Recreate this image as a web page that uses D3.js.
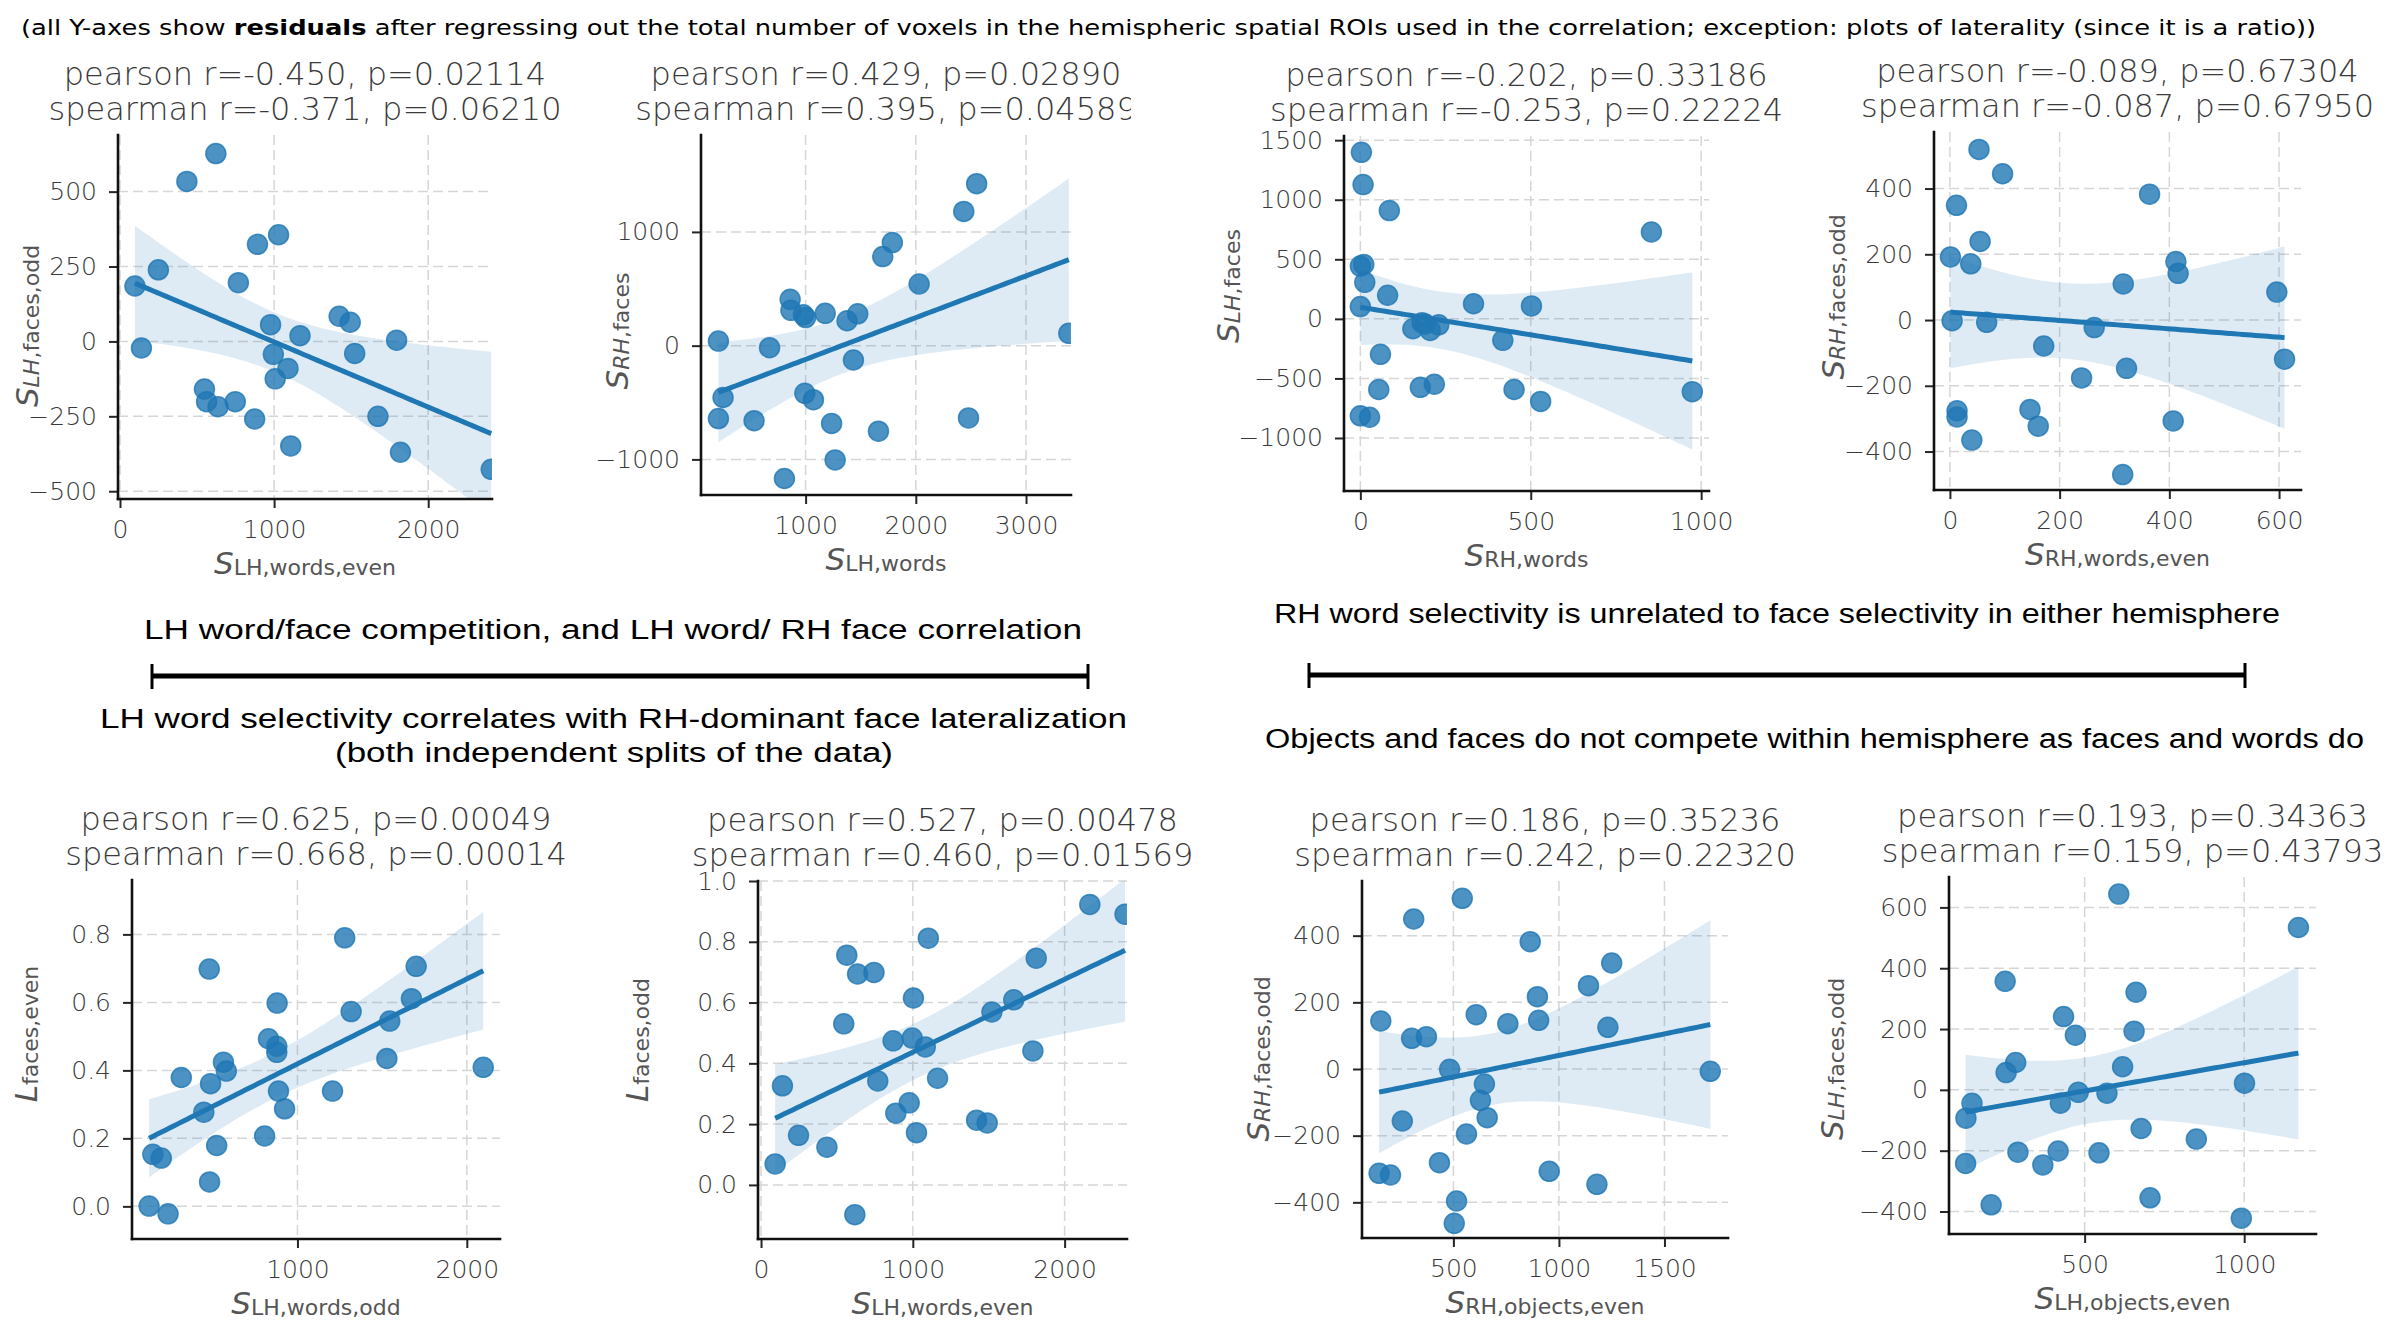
<!DOCTYPE html>
<html>
<head>
<meta charset="utf-8">
<script src="https://cdn.jsdelivr.net/npm/d3@7"></script>
<style>
  body { margin: 0; background: #fff; }
  text { font-family: "DejaVu Sans", sans-serif; }
</style>
</head>
<body>
<script>
// ---- data ----
var p1X = [622, 434, 1029, 892, 249, 97, 768, 1422, 1494, 977, 1168, 1795, 139, 995, 1523, 1090, 1007, 548, 562, 636, 748, 874, 1674, 1108, 1820, 2409];
var p1Y = [627, 534, 356, 324, 239, 185, 196, 84, 64, 56, 19, 4, -22, -43, -40, -90, -125, -159, -201, -218, -201, -259, -250, -349, -370, -427];

var p2X = [2552, 2435, 1787, 1700, 2030, 860, 867, 980, 1000, 1178, 1376, 1473, 209, 673, 3388, 1434, 993, 1071, 251, 209, 533, 1236, 1661, 2478, 1268, 808];
var p2Y = [1424, 1180, 906, 783, 542, 407, 311, 271, 247, 284, 219, 280, 40, -18, 108, -126, -419, -475, -456, -641, -660, -684, -752, -635, -1005, -1168];

var p3X = [3, 8, 85, 854, 0, 10, 13, 80, 0, 332, 502, 154, 190, 205, 230, 181, 418, 59, 54, 176, 217, 451, 529, 974, 0, 27];
var p3Y = [1398, 1127, 909, 729, 443, 457, 307, 198, 103, 127, 109, -83, -44, -97, -50, -32, -180, -298, -593, -575, -549, -593, -693, -611, -814, -826];

var p4X = [53, 96, 364, 12, 55, 1, 38, 412, 416, 316, 596, 4, 67, 263, 171, 610, 322, 240, 13, 13, 146, 161, 407, 40, 315];
var p4Y = [519, 445, 383, 349, 239, 192, 171, 178, 142, 110, 85, -2, -7, -23, -79, -119, -147, -176, -276, -295, -272, -323, -307, -365, -470];

var p5X = [1279, 479, 1701, 880, 1673, 1317, 1545, 829, 878, 878, 563, 580, 1528, 2097, 314, 487, 888, 1207, 924, 447, 806, 523, 146, 196, 481, 124, 236];
var p5Y = [0.790, 0.698, 0.706, 0.598, 0.611, 0.573, 0.545, 0.493, 0.471, 0.453, 0.424, 0.398, 0.435, 0.409, 0.379, 0.361, 0.339, 0.339, 0.287, 0.277, 0.207, 0.179, 0.153, 0.142, 0.072, 0.001, -0.022];

var p6X = [2166, 2398, 1102, 565, 636, 744, 1813, 1004, 545, 1521, 1665, 870, 996, 1082, 1791, 141, 769, 1163, 976, 888, 1420, 1490, 247, 1024, 434, 93, 618];
var p6Y = [0.923, 0.891, 0.812, 0.756, 0.694, 0.699, 0.746, 0.615, 0.530, 0.569, 0.609, 0.474, 0.483, 0.454, 0.441, 0.326, 0.342, 0.351, 0.270, 0.236, 0.213, 0.204, 0.163, 0.172, 0.124, 0.069, -0.098];

var p7X = [542, 312, 864, 1250, 1140, 898, 608, 156, 758, 904, 1232, 302, 372, 482, 1717, 647, 628, 660, 258, 562, 434, 954, 148, 202, 1180, 515, 504];
var p7Y = [512, 450, 382, 318, 250, 217, 163, 144, 136, 146, 125, 92, 97, -1, -7, -45, -94, -146, -156, -195, -281, -307, -313, -318, -346, -396, -463];

var p8X = [607, 1170, 251, 661, 434, 655, 471, 284, 254, 619, 1001, 480, 570, 147, 424, 128, 677, 850, 291, 417, 545, 127, 369, 207, 705, 991];
var p8Y = [644, 534, 357, 321, 241, 193, 180, 90, 57, 76, 22, -8, -11, -44, -44, -93, -127, -162, -205, -201, -207, -242, -247, -378, -355, -422];

var titles = [
  ["pearson r=-0.450, p=0.02114", "spearman r=-0.371, p=0.06210"],
  ["pearson r=0.429, p=0.02890", "spearman r=0.395, p=0.04589"],
  ["pearson r=-0.202, p=0.33186", "spearman r=-0.253, p=0.22224"],
  ["pearson r=-0.089, p=0.67304", "spearman r=-0.087, p=0.67950"],
  ["pearson r=0.625, p=0.00049", "spearman r=0.668, p=0.00014"],
  ["pearson r=0.527, p=0.00478", "spearman r=0.460, p=0.01569"],
  ["pearson r=0.186, p=0.35236", "spearman r=0.242, p=0.22320"],
  ["pearson r=0.193, p=0.34363", "spearman r=0.159, p=0.43793"]
];

var xTicks = [[0, 1000, 2000], [1000, 2000, 3000], [0, 500, 1000], [0, 200, 400, 600],
              [1000, 2000], [0, 1000, 2000], [500, 1000, 1500], [500, 1000]];
var yTicks = [[-500, -250, 0, 250, 500], [-1000, 0, 1000], [-1000, -500, 0, 500, 1000, 1500], [-400, -200, 0, 200, 400],
              [0, 0.2, 0.4, 0.6, 0.8], [0, 0.2, 0.4, 0.6, 0.8, 1.0], [-400, -200, 0, 200, 400], [-400, -200, 0, 200, 400, 600]];

// axis labels: [symbol, italic subscript part, upright subscript part]
var xLabels = [["S", "", "LH,words,even"], ["S", "", "LH,words"], ["S", "", "RH,words"], ["S", "", "RH,words,even"],
               ["S", "", "LH,words,odd"], ["S", "", "LH,words,even"], ["S", "", "RH,objects,even"], ["S", "", "LH,objects,even"]];
var yLabels = [["S", "LH", ",faces,odd"], ["S", "RH", ",faces"], ["S", "LH", ",faces"], ["S", "RH", ",faces,odd"],
               ["L", "", "faces,even"], ["L", "", "faces,odd"], ["S", "RH", ",faces,odd"], ["S", "LH", ",faces,odd"]];

var xLimits = [[-13, 2414], [51, 3408], [-48, 1023], [-29, 640], [23, 2196], [-20, 2411], [67, 1801], [75, 1225]];
var yLimits = [[-526, 689], [-1313, 1852], [-1445, 1535], [-517, 572], [-0.096, 0.96], [-0.178, 1.0], [-507, 564], [-474, 700]];

var notes = [
  "LH word/face competition, and LH word/ RH face correlation",
  "LH word selectivity correlates with RH-dominant face lateralization",
  "(both independent splits of the data)",
  "RH word selectivity is unrelated to face selectivity in either hemisphere",
  "Objects and faces do not compete within hemisphere as faces and words do"
];

// ---- layout ----
var W = 2387, H = 1323;
var boxes = [[118, 135, 492, 499], [701, 135, 1071, 495], [1344, 136, 1709, 491], [1934, 132, 2301, 490],
             [132, 880, 500, 1239], [758, 881, 1127, 1239], [1362, 881, 1728, 1238], [1949, 877, 2316, 1234]];
var yLabelPos = [[38, 326], [628, 331], [1239, 286], [1844, 297], [37, 1034], [648, 1040], [1269, 1059], [1843, 1059]];
var blue = "#1f77b4";
var ink = "#3a3a3a";

var svg = d3.select("body").append("svg")
  .attr("width", W).attr("height", H);

var defs = svg.append("defs");

var allX = [p1X, p2X, p3X, p4X, p5X, p6X, p7X, p8X];
var allY = [p1Y, p2Y, p3Y, p4Y, p5Y, p6Y, p7Y, p8Y];

function fmtTick(v, isRatio) {
  var s = isRatio ? d3.format(".1f")(Math.abs(v)) : String(Math.abs(v));
  return (v < 0 ? "\u2212" : "") + s;
}

function addLabel(t, lab) {
  t.append("tspan").attr("font-style", "italic").attr("font-size", 31).text(lab[0]);
  if (lab[1]) t.append("tspan").attr("font-style", "italic").attr("font-size", 22).attr("dy", 1).text(lab[1]);
  t.append("tspan").attr("font-size", 22).attr("dy", lab[1] ? 0 : 1).text(lab[2]);
}

allX.forEach(function(xs, i) {
  var b = boxes[i];
  var ys = allY[i];
  var isRatio = (i === 4 || i === 5);
  var x = d3.scaleLinear().domain(xLimits[i]).range([b[0], b[2]]);
  var y = d3.scaleLinear().domain(yLimits[i]).range([b[3], b[1]]);
  var g = svg.append("g");

  defs.append("clipPath").attr("id", "clip" + i)
    .append("rect").attr("x", b[0]).attr("y", b[1]).attr("width", b[2] - b[0]).attr("height", b[3] - b[1]);

  // grid
  g.selectAll(".gx").data(xTicks[i]).enter().append("line")
    .attr("x1", function(d) { return x(d); }).attr("x2", function(d) { return x(d); })
    .attr("y1", b[1]).attr("y2", b[3])
    .attr("stroke", "#d6d6d6").attr("stroke-width", 1.5).attr("stroke-dasharray", "10,5");
  g.selectAll(".gy").data(yTicks[i]).enter().append("line")
    .attr("y1", function(d) { return y(d); }).attr("y2", function(d) { return y(d); })
    .attr("x1", b[0]).attr("x2", b[2])
    .attr("stroke", "#d6d6d6").attr("stroke-width", 1.5).attr("stroke-dasharray", "10,5");

  var plot = g.append("g").attr("clip-path", "url(#clip" + i + ")");

  // scatter
  plot.selectAll("circle").data(xs).enter().append("circle")
    .attr("cx", function(d) { return x(d); })
    .attr("cy", function(d, j) { return y(ys[j]); })
    .attr("r", 10)
    .attr("fill", blue).attr("fill-opacity", 0.8)
    .attr("stroke", blue).attr("stroke-opacity", 0.8).attr("stroke-width", 1.5);

  // linear fit with 95% confidence band
  var n = xs.length;
  var mx = d3.mean(xs), my = d3.mean(ys);
  var sxx = d3.sum(xs, function(v) { return (v - mx) * (v - mx); });
  var sxy = d3.sum(xs, function(v, j) { return (v - mx) * (ys[j] - my); });
  var slope = sxy / sxx, icpt = my - slope * mx;
  var sse = d3.sum(xs, function(v, j) { var r = ys[j] - (icpt + slope * v); return r * r; });
  var s = Math.sqrt(sse / (n - 2));
  var tcrit = 2.06;
  var ext = d3.extent(xs);
  var grid = d3.range(0, 81).map(function(k) { return ext[0] + (ext[1] - ext[0]) * k / 80; });
  var band = grid.map(function(v) {
    var fit = icpt + slope * v;
    var se = s * Math.sqrt(1 / n + (v - mx) * (v - mx) / sxx);
    return { x: v, lo: fit - tcrit * se, hi: fit + tcrit * se, fit: fit };
  });
  plot.append("path").datum(band)
    .attr("d", d3.area().x(function(d) { return x(d.x); }).y0(function(d) { return y(d.lo); }).y1(function(d) { return y(d.hi); }))
    .attr("fill", blue).attr("fill-opacity", 0.15);
  plot.append("path").datum(band)
    .attr("d", d3.line().x(function(d) { return x(d.x); }).y(function(d) { return y(d.fit); }))
    .attr("fill", "none").attr("stroke", blue).attr("stroke-width", 5);

  // axes
  var xAxis = d3.axisBottom(x).tickValues(xTicks[i]).tickSize(9).tickPadding(12)
    .tickFormat(function(d) { return fmtTick(d, false); });
  var yAxis = d3.axisLeft(y).tickValues(yTicks[i]).tickSize(9).tickPadding(12)
    .tickFormat(function(d) { return fmtTick(d, isRatio); });
  var gx = g.append("g").attr("transform", "translate(0," + b[3] + ")").call(xAxis);
  var gy = g.append("g").attr("transform", "translate(" + b[0] + ",0)").call(yAxis);
  [gx, gy].forEach(function(a) {
    a.select(".domain").remove();
    a.selectAll(".tick line").attr("stroke", "#262626").attr("stroke-width", 2);
    a.selectAll(".tick text").attr("fill", ink).attr("font-size", 25)
      .attr("font-family", "DejaVu Sans").attr("font-weight", 200);
  });
  g.append("line").attr("x1", b[0]).attr("x2", b[2]).attr("y1", b[3]).attr("y2", b[3])
    .attr("stroke", "#111").attr("stroke-width", 2.6).attr("stroke-linecap", "square");
  g.append("line").attr("x1", b[0]).attr("x2", b[0]).attr("y1", b[1]).attr("y2", b[3])
    .attr("stroke", "#111").attr("stroke-width", 2.6).attr("stroke-linecap", "square");

  // titles
  var cx = (b[0] + b[2]) / 2;
  var tg = g.append("g");
  if (i === 1) {
    defs.append("clipPath").attr("id", "tclip1").append("rect")
      .attr("x", 560).attr("y", 40).attr("width", 571).attr("height", 100);
    tg.attr("clip-path", "url(#tclip1)");
  }
  titles[i].forEach(function(line, k) {
    tg.append("text").attr("x", cx).attr("y", b[1] - 15 - (1 - k) * 35)
      .attr("text-anchor", "middle").attr("font-size", 32).attr("font-weight", 200)
      .attr("fill", ink).text(line);
  });

  // axis labels
  var xl = g.append("text").attr("x", cx).attr("y", b[3] + 75)
    .attr("text-anchor", "middle").attr("fill", "#555");
  addLabel(xl, xLabels[i]);
  var yl = g.append("text")
    .attr("transform", "translate(" + yLabelPos[i][0] + "," + yLabelPos[i][1] + ") rotate(-90)")
    .attr("text-anchor", "middle").attr("fill", "#555");
  addLabel(yl, yLabels[i]);
});

// ---- header note and annotations ----
var head = svg.append("text").attr("x", 21).attr("y", 35)
  .attr("font-family", "Liberation Sans").attr("font-size", 22).attr("fill", "#000")
  .attr("textLength", 2295).attr("lengthAdjust", "spacingAndGlyphs");
head.append("tspan").text("(all Y-axes show ");
head.append("tspan").attr("font-weight", "bold").text("residuals");
head.append("tspan").text(" after regressing out the total number of voxels in the hemispheric spatial ROIs used in the correlation; exception: plots of laterality (since it is a ratio))");

var notePos = [[144, 639, 938], [100, 728, 1027], [335, 762, 558], [1274, 623, 1006], [1265, 748, 1099]];
notes.forEach(function(t, k) {
  svg.append("text").attr("x", notePos[k][0]).attr("y", notePos[k][1])
    .attr("font-size", 27).attr("fill", "#000")
    .attr("textLength", notePos[k][2]).attr("lengthAdjust", "spacingAndGlyphs")
    .style("font-family", "Liberation Sans").text(t);
});

var brackets = [[152, 1088, 676], [1309, 2245, 675]];
brackets.forEach(function(br) {
  var bg = svg.append("g").attr("stroke", "#000");
  bg.append("line").attr("x1", br[0]).attr("x2", br[1]).attr("y1", br[2]).attr("y2", br[2]).attr("stroke-width", 5);
  bg.append("line").attr("x1", br[0]).attr("x2", br[0]).attr("y1", br[2] - 12).attr("y2", br[2] + 13).attr("stroke-width", 3);
  bg.append("line").attr("x1", br[1]).attr("x2", br[1]).attr("y1", br[2] - 12).attr("y2", br[2] + 13).attr("stroke-width", 3);
});
</script>
</body>
</html>
